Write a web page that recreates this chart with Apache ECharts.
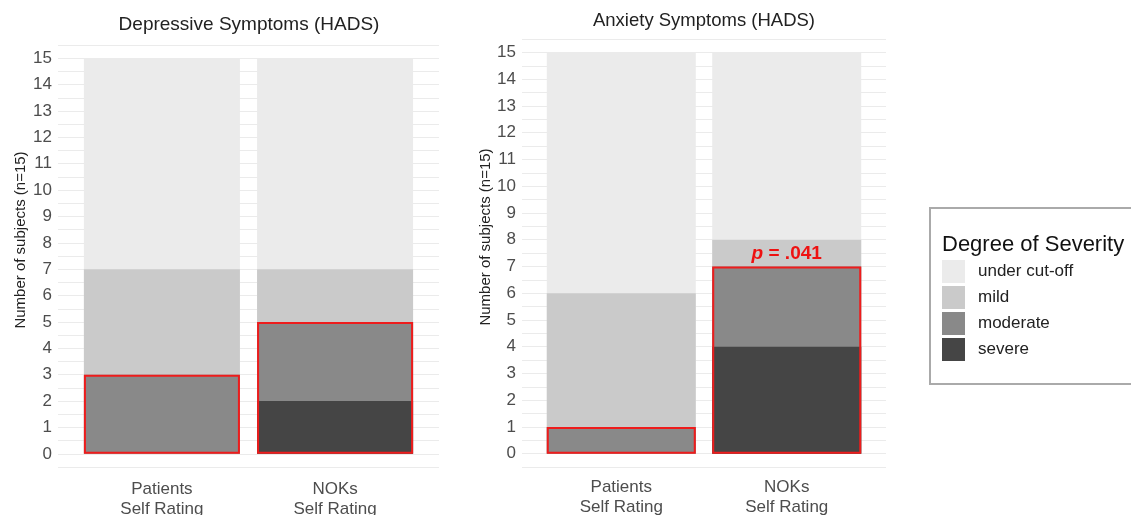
<!DOCTYPE html>
<html>
<head>
<meta charset="utf-8">
<title>HADS severity</title>
<script src="https://cdn.jsdelivr.net/npm/echarts@6/dist/echarts.min.js"></script>
<style>
  html, body { margin: 0; padding: 0; background: #fff; }
  #chart { width: 1131px; height: 515px; }
</style>
</head>
<body>
<div id="chart"></div>
<script>
var categories = ['Patients\nSelf Rating', 'NOKs\nSelf Rating'];
var levels = ['under cut-off', 'mild', 'moderate', 'severe'];
var yTicks = [0, 1, 2, 3, 4, 5, 6, 7, 8, 9, 10, 11, 12, 13, 14, 15];

// Depressive symptoms
var depSevere = [0, 2];
var depModerate = [3, 3];
var depMild = [4, 2];
var depUnder = [8, 8];

// Anxiety symptoms
var anxSevere = [0, 4];
var anxModerate = [1, 3];
var anxMild = [5, 1];
var anxUnder = [9, 7];

var pText = '.041';

window.onload = function () {
    var chartDom = document.getElementById('chart');
    var myChart = echarts.init(chartDom);
    var font = "'Liberation Sans', Arial, sans-serif";
    var colors = {
        'under cut-off': '#ebebeb',
        'mild': '#cacaca',
        'moderate': '#898989',
        'severe': '#454545'
    };

    function pts(arr) {
        return arr.map(function (v, i) { return [i + 1, v]; });
    }

    // running totals, bottom (severe) to top (under cut-off)
    function cumul(parts) {
        var out = [];
        var run = parts[0].map(function () { return 0; });
        parts.forEach(function (arr) {
            run = run.map(function (r, i) { return r + arr[i]; });
            out.push(run.slice());
        });
        return out;
    }

    function panel(idx, sev, mod, mild, under, bw, mildLabel) {
        var tops = cumul([sev, mod, mild, under]); // severe, moderate, mild, under
        var names = ['severe', 'moderate', 'mild', 'under cut-off'];
        var list = [];
        // draw tallest first so the lower segments sit on top
        for (var k = 3; k >= 0; k--) {
            var s = {
                name: names[k],
                type: 'bar',
                xAxisIndex: idx,
                yAxisIndex: idx,
                barWidth: bw,
                barGap: '-100%',
                itemStyle: { color: colors[names[k]] },
                emphasis: { disabled: true },
                data: pts(tops[k])
            };
            if (names[k] === 'mild' && mildLabel) s.label = mildLabel;
            list.push(s);
        }
        // red box around moderate + severe
        list.push({
            name: 'box',
            type: 'bar',
            xAxisIndex: idx,
            yAxisIndex: idx,
            barWidth: bw,
            barGap: '-100%',
            z: 5,
            itemStyle: { color: 'rgba(0,0,0,0)', borderColor: '#ee1c1c', borderWidth: 2 },
            emphasis: { disabled: true },
            data: pts(tops[1])
        });
        return list;
    }

    function xAxis(idx, margin) {
        return {
            type: 'value',
            gridIndex: idx,
            min: 0.4,
            max: 2.6,
            axisLine: { show: false },
            axisTick: { show: false },
            splitLine: { show: false },
            axisLabel: {
                customValues: [1, 2],
                formatter: function (v) { return categories[Math.round(v) - 1]; },
                color: '#4d4d4d',
                fontSize: 17,
                lineHeight: 20,
                fontFamily: font,
                margin: margin
            }
        };
    }

    function yAxis(idx, gap) {
        return {
            type: 'value',
            gridIndex: idx,
            min: -0.5,
            max: 15.5,
            interval: 0.5,
            name: 'Number of subjects (n=15)',
            nameLocation: 'middle',
            nameGap: gap,
            nameTextStyle: { color: '#222', fontSize: 15, fontFamily: font, padding: [0, 0, 0, 32] },
            axisLine: { show: false },
            axisTick: { show: false },
            splitLine: { lineStyle: { color: '#ebebeb', width: 1 } },
            axisLabel: {
                customValues: yTicks,
                color: '#4d4d4d',
                fontSize: 17,
                fontFamily: font,
                margin: 6
            }
        };
    }

    var option = {
        animation: false,
        textStyle: { fontFamily: font },
        title: [
            { text: 'Depressive Symptoms (HADS)', left: 244, top: 10, textAlign: 'center',
              textStyle: { fontSize: 19, fontWeight: 'normal', color: '#222', fontFamily: font } },
            { text: 'Anxiety Symptoms (HADS)', left: 699, top: 6, textAlign: 'center',
              textStyle: { fontSize: 18.5, fontWeight: 'normal', color: '#222', fontFamily: font } },
            { text: 'Degree of Severity', left: 937, top: 229,
              textStyle: { fontSize: 22, fontWeight: 'normal', color: '#111', fontFamily: font } }
        ],
        graphic: [{
            type: 'rect',
            shape: { x: 930, y: 208, width: 220, height: 176 },
            style: { fill: 'none', stroke: '#aaaaaa', lineWidth: 2 }
        }],
        legend: {
            data: levels,
            orient: 'vertical',
            left: 942,
            top: 260,
            icon: 'rect',
            itemWidth: 23,
            itemHeight: 23,
            itemGap: 3,
            padding: 0,
            selectedMode: false,
            textStyle: { fontSize: 17, color: '#222', fontFamily: font, padding: [0, 0, 0, 8] }
        },
        grid: [
            { left: 58, width: 381, top: 45, height: 422, outerBoundsMode: 'none' },
            { left: 522, width: 364, top: 39, height: 428, outerBoundsMode: 'none' }
        ],
        xAxis: [xAxis(0, 12), xAxis(1, 10)],
        yAxis: [yAxis(0, 30), yAxis(1, 29)],
        series: [].concat(
            panel(0, depSevere, depModerate, depMild, depUnder, 156, null),
            panel(1, anxSevere, anxModerate, anxMild, anxUnder, 149, {
                show: true,
                position: 'insideTop',
                distance: 5,
                formatter: function (p) { return p.dataIndex === 1 ? '{i|p} = ' + pText : ''; },
                color: '#ee1111',
                fontSize: 19,
                fontWeight: 'bold',
                fontFamily: font,
                rich: {
                    i: { fontStyle: 'italic', fontWeight: 'bold', color: '#ee1111', fontSize: 19, fontFamily: font }
                }
            })
        )
    };

    option && myChart.setOption(option);

    window.addEventListener('resize', function () {
        myChart.resize();
    });
};
</script>
</body>
</html>
